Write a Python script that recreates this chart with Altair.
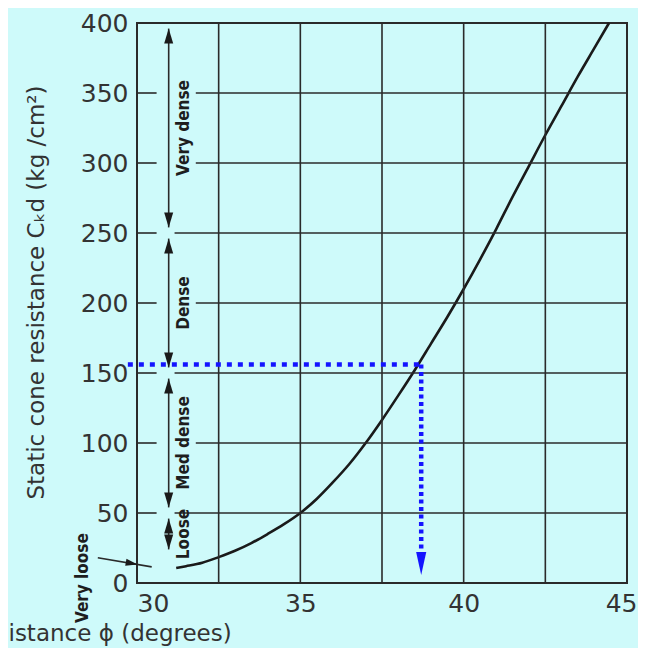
import altair as alt
import pandas as pd

# Curve: static cone resistance vs angle of shearing resistance
phi = [31.2, 31.5, 32.0, 32.5, 33.0, 33.5, 34.0, 34.5, 35.0, 35.5, 36.0, 36.5,
       37.0, 37.5, 38.0, 38.5, 39.0, 39.5, 40.0, 40.5, 41.0, 41.5, 42.0, 42.5,
       43.0, 43.5, 44.0, 44.45]
ckd = [10.7, 12, 14.5, 18.5, 23, 28.5, 35, 42, 50, 60, 72, 85,
       100, 116.5, 134, 152, 171, 190, 210, 231, 253, 276, 298, 320,
       341, 362, 382, 400]

x_ticks = [30, 35, 40, 45]
y_ticks = [0, 50, 100, 150, 200, 250, 300, 350, 400]
grid_phi = [32.5, 35, 37.5, 40, 42.5]
grid_ckd = [50, 100, 150, 200, 250, 300, 350]

classes = ["Very loose", "Loose", "Med dense", "Dense", "Very dense"]
class_low = [0, 20, 50, 150, 250]
class_high = [20, 50, 150, 250, 400]

read_ckd = 156
read_phi = 38.7

INK = "#2a2a2a"
BLUE = "#1414ff"
FONT = "DejaVu Sans"
NARROW = "DejaVu Sans Condensed, Liberation Sans Narrow, DejaVu Sans"

xs = alt.Scale(domain=[30, 45], nice=False, zero=False)
ys = alt.Scale(domain=[0, 400], nice=False, zero=False)

X_AXIS = alt.Axis(
    values=x_ticks, grid=False, ticks=False, domain=False,
    labelFont=FONT, labelFontSize=25, labelColor="#333333", labelPadding=8,
    labelAlign={"condition": [{"test": "datum.value == 30", "value": "left"},
                              {"test": "datum.value == 45", "value": "right"}],
                "value": "center"},
    labelOffset={"condition": {"test": "datum.value == 45", "value": 10}, "value": 0},
    title="istance ϕ (degrees)", titleFont=FONT, titleFontSize=23,
    titleFontWeight="normal", titleColor="#333333",
    titleX=-129, titleY=57, titleAlign="left", titleBaseline="alphabetic")
Y_AXIS = alt.Axis(
    values=y_ticks, grid=False, ticks=False, domain=False,
    labelFont=FONT, labelFontSize=25, labelColor="#333333", labelPadding=9,
    title="Static cone resistance Cₖd (kg /cm²)", titleFont=FONT,
    titleFontSize=23, titleFontWeight="normal", titleColor="#333333",
    titleX=-94, titleY=269, titleAlign="center", titleBaseline="alphabetic")


def X(field):
    return alt.X(field, scale=xs, axis=X_AXIS, title=X_AXIS.title)


def Y(field):
    return alt.Y(field, scale=ys, axis=Y_AXIS, title=Y_AXIS.title)


def XD(v):
    return alt.datum(v, scale=xs, axis=X_AXIS, title=X_AXIS.title)


def YD(v):
    return alt.datum(v, scale=ys, axis=Y_AXIS, title=Y_AXIS.title)


curve_df = pd.DataFrame({"phi": phi, "ckd": ckd})

curve = alt.Chart(curve_df).mark_line(
    color="#1a1a1a", strokeWidth=2.6, interpolate="monotone"
).encode(x=X("phi:Q"), y=Y("ckd:Q"))

# vertical grid lines
vgrid = alt.Chart(pd.DataFrame({"g": grid_phi})).mark_rule(
    color=INK, strokeWidth=1.6
).encode(x=X("g:Q"), y=YD(0), y2=alt.datum(400))

# horizontal grid lines (interrupted near the density column)
boundaries = set(class_low[2:])
hg = pd.DataFrame({
    "g": grid_ckd,
    "start": [31.15 if v in boundaries else 31.8 for v in grid_ckd],
    "end": [45] * len(grid_ckd),
})
hgrid = alt.Chart(hg).mark_rule(color=INK, strokeWidth=1.6).encode(
    y=Y("g:Q"), x=X("start:Q"), x2="end:Q",
)
hticks = alt.Chart(pd.DataFrame({"g": grid_ckd})).mark_rule(
    color=INK, strokeWidth=1.6
).encode(y=Y("g:Q"), x=XD(30), x2=alt.datum(30.6))

# density class arrows
cls = pd.DataFrame({"name": classes, "low": class_low, "high": class_high})
cls["mid"] = (cls["low"] + cls["high"]) / 2
cls["tip_lo"] = cls["low"] + 4
cls["tip_hi"] = cls["high"] - 4
arr = cls[cls["name"] != "Very loose"]

arrow_lines = alt.Chart(arr).mark_rule(color=INK, strokeWidth=1.6).encode(
    x=XD(30.97), y=Y("tip_lo:Q"), y2="tip_hi:Q",
)
UP = "M0,0L0.3,1L-0.3,1Z"
DOWN = "M0,0L0.3,-1L-0.3,-1Z"
heads_up = alt.Chart(arr).mark_point(
    shape=UP, filled=True, color="#1a1a1a", size=900, opacity=1
).encode(x=XD(30.97), y=Y("tip_hi:Q"))
heads_down = alt.Chart(arr).mark_point(
    shape=DOWN, filled=True, color="#1a1a1a", size=900, opacity=1
).encode(x=XD(30.97), y=Y("tip_lo:Q"))

labels = alt.Chart(arr).mark_text(
    angle=270, font=NARROW, fontSize=17, fontWeight="bold", color="#1e1e1e",
    align="center", baseline="middle"
).encode(x=XD(31.45), y=Y("mid:Q"), text="name:N")

# "Very loose" leader arrow outside the axis
vl_line = alt.Chart(pd.DataFrame({"a": [28.8], "b": [30.45], "ya": [18], "yb": [11.5]})).mark_rule(
    color=INK, strokeWidth=1.6
).encode(x=X("a:Q"), x2="b:Q", y=Y("ya:Q"), y2="yb:Q")
vl_head = alt.Chart(pd.DataFrame({"a": [30.02], "y": [13.3]})).mark_point(
    shape="M0,0L-1,0.3L-1,-0.3Z", filled=True, color="#1a1a1a", size=576,
    angle=10, opacity=1
).encode(x=X("a:Q"), y=Y("y:Q"))
vl_text = alt.Chart(pd.DataFrame({"name": [classes[0]]})).mark_text(
    angle=270, font=NARROW, fontSize=17, fontWeight="bold", color="#1e1e1e",
    align="center", baseline="middle"
).encode(x=XD(28.35), y=YD(3.5), text="name:N")

# blue reading lines
blue_h = alt.Chart(pd.DataFrame({"y": [read_ckd], "a": [29.72], "b": [read_phi]})).mark_rule(
    color=BLUE, strokeWidth=4.5, strokeDash=[5, 6]
).encode(y=Y("y:Q"), x=X("a:Q"), x2="b:Q")
blue_v = alt.Chart(pd.DataFrame({"x": [read_phi], "a": [read_ckd], "b": [22]})).mark_rule(
    color=BLUE, strokeWidth=4.5, strokeDash=[4, 3.5]
).encode(x=X("x:Q"), y=Y("a:Q"), y2="b:Q")
blue_head = alt.Chart(pd.DataFrame({"x": [read_phi], "y": [5.7]})).mark_point(
    shape="M0,0L0.22,-1L-0.22,-1Z", filled=True, color=BLUE, size=2116, opacity=1
).encode(x=X("x:Q"), y=Y("y:Q"))

chart = alt.layer(
    curve, vgrid, hgrid, hticks, arrow_lines, heads_up, heads_down, labels,
    vl_line, vl_head, vl_text, blue_h, blue_v, blue_head,
).properties(
    width=490, height=560,
    padding={"left": 129, "top": 15, "right": 11, "bottom": 65},
    autosize="none",
    background="#cefafa",
).configure_view(stroke="#2a2a2a", strokeWidth=2)

chart.save("out.html", embed_options={"renderer": "svg", "actions": False})
